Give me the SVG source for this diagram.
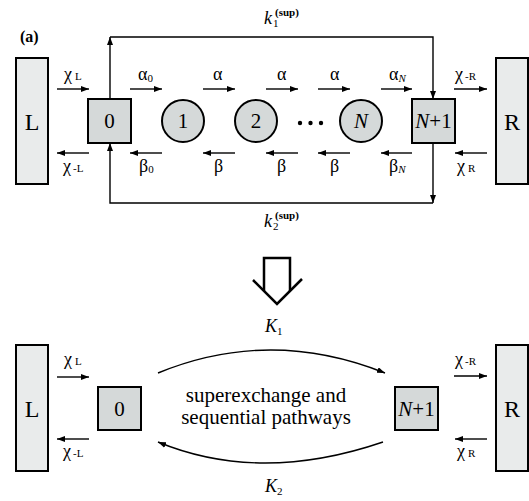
<svg xmlns="http://www.w3.org/2000/svg" width="529" height="501" viewBox="0 0 529 501">
<defs>
<marker id="ah" markerUnits="userSpaceOnUse" markerWidth="10" markerHeight="8" refX="8" refY="3" orient="auto">
<path d="M0,0 L8,3 L0,6 z" fill="#000"/>
</marker>
<style>
text{font-family:"Liberation Serif","Times New Roman",serif;fill:#000}
.lbl{font-size:18px}
.sub{font-size:11px}
.node{font-size:21px}
.big{font-size:24px}
.ital{font-style:italic}
.hdr{font-size:16px;font-weight:bold}
.res{fill:#e9ebeb;stroke:#000;stroke-width:2}
.box{fill:#d5d9d9;stroke:#000;stroke-width:2}
.arr{fill:none;stroke:#000;stroke-width:1.4;marker-end:url(#ah)}
.ln{fill:none;stroke:#000;stroke-width:1.4}
</style>
</defs>
<rect width="529" height="501" fill="#fff"/>

<!-- Panel (a) -->
<text class="hdr" x="20" y="42">(a)</text>
<g id="a-L"><rect class="res" x="16" y="58" width="32" height="126"/><text class="big" x="32" y="130" text-anchor="middle">L</text></g>
<g id="a-R"><rect class="res" x="496" y="58" width="32" height="126"/><text class="big" x="512" y="130" text-anchor="middle">R</text></g>
<g id="a-0"><rect class="box" x="88" y="99" width="43" height="44"/><text class="node" x="109.5" y="128" text-anchor="middle">0</text></g>
<g id="a-1"><circle class="box" cx="183" cy="121" r="21"/><text class="node" x="183" y="128" text-anchor="middle">1</text></g>
<g id="a-2"><circle class="box" cx="256" cy="121" r="21"/><text class="node" x="256" y="128" text-anchor="middle">2</text></g>
<g id="a-dots"><circle cx="300" cy="123" r="2.2"/><circle cx="310.5" cy="123" r="2.2"/><circle cx="321" cy="123" r="2.2"/></g>
<g id="a-N"><circle class="box" cx="361" cy="121" r="21"/><text class="node ital" x="361" y="128" text-anchor="middle">N</text></g>
<g id="a-N1"><rect class="box" x="412" y="99" width="43" height="44"/><text class="node" x="433.5" y="128" text-anchor="middle"><tspan font-style="italic">N</tspan>+1</text></g>

<g id="a-connectors">
<path class="arr" d="M57,89 H89"/>
<path class="arr" d="M89,153 H57"/>
<path class="arr" d="M130,89 H162"/>
<path class="arr" d="M203,89 H235"/>
<path class="arr" d="M266,89 H298"/>
<path class="arr" d="M318,89 H350"/>
<path class="arr" d="M381,89 H412"/>
<path class="arr" d="M454,89 H487"/>
<path class="arr" d="M162,153 H130"/>
<path class="arr" d="M235,153 H203"/>
<path class="arr" d="M298,153 H266"/>
<path class="arr" d="M350,153 H318"/>
<path class="arr" d="M412,153 H381"/>
<path class="arr" d="M487,153 H455"/>
<path class="arr" d="M110,99 V37"/>
<path class="arr" d="M110,37 H433 V99"/>
<path class="arr" d="M433,143 V203"/>
<path class="arr" d="M433,203 H110 V143"/>
</g>

<g id="a-labels">
<text class="lbl" x="64" y="80">χ<tspan class="sub" dx="3">L</tspan></text>
<text class="lbl" x="63" y="172">χ<tspan class="sub" dx="2">-L</tspan></text>
<text class="lbl" x="138" y="80">α<tspan class="sub" dy="2">0</tspan></text>
<text class="lbl" x="213" y="80">α</text>
<text class="lbl" x="277" y="80">α</text>
<text class="lbl" x="330" y="80">α</text>
<text class="lbl" x="389" y="80">α<tspan class="sub ital" dy="2">N</tspan></text>
<text class="lbl" x="455" y="80">χ<tspan class="sub" dx="2">-R</tspan></text>
<text class="lbl" x="139" y="172">β<tspan class="sub" dy="1">0</tspan></text>
<text class="lbl" x="214" y="172">β</text>
<text class="lbl" x="277" y="172">β</text>
<text class="lbl" x="330" y="172">β</text>
<text class="lbl" x="389" y="172">β<tspan class="sub ital" dy="1">N</tspan></text>
<text class="lbl" x="457" y="172">χ<tspan class="sub" dx="3">R</tspan></text>
<text class="lbl ital" x="264" y="24">k</text><text class="sub" x="273" y="27">1</text><text class="sub" font-weight="bold" x="275" y="16">(sup)</text>
<text class="lbl ital" x="264" y="227">k</text><text class="sub" x="273" y="230">2</text><text class="sub" font-weight="bold" x="275" y="219">(sup)</text>
</g>

<!-- Big hollow arrow -->
<g id="down-arrow" fill="none" stroke="#000" stroke-width="2.5">
<path d="M264,291 V258 H290 V291"/>
<path d="M253,280 L277,304 L302,279"/>
</g>

<!-- Panel (b) -->
<text class="hdr" x="20" y="373">(b)</text>
<g id="b-L"><rect class="res" x="16" y="345" width="32" height="126"/><text class="big" x="32" y="417" text-anchor="middle">L</text></g>
<g id="b-R"><rect class="res" x="496" y="345" width="32" height="126"/><text class="big" x="512" y="417" text-anchor="middle">R</text></g>
<g id="b-0"><rect class="box" x="98" y="387" width="43" height="43"/><text class="node" x="119.5" y="416" text-anchor="middle">0</text></g>
<g id="b-N1"><rect class="box" x="395" y="387" width="43" height="43"/><text class="node" x="416.5" y="416" text-anchor="middle"><tspan font-style="italic">N</tspan>+1</text></g>
<g id="b-text"><text font-size="21" x="266" y="402" text-anchor="middle">superexchange and</text><text font-size="21" x="266" y="424" text-anchor="middle">sequential pathways</text></g>

<g id="b-connectors">
<path class="arr" d="M57,377 H89"/>
<path class="arr" d="M89,439 H57"/>
<path class="arr" d="M454,376 H487"/>
<path class="arr" d="M487,439 H455"/>
<path class="arr" d="M158,373 Q270,327 385,373"/>
<path class="arr" d="M383,442 Q260,484 158,442"/>
</g>

<g id="b-labels">
<text class="lbl" x="64" y="365">χ<tspan class="sub" dx="3">L</tspan></text>
<text class="lbl" x="63" y="457">χ<tspan class="sub" dx="2">-L</tspan></text>
<text class="lbl" x="455" y="365">χ<tspan class="sub" dx="2">-R</tspan></text>
<text class="lbl" x="457" y="457">χ<tspan class="sub" dx="3">R</tspan></text>
<text class="lbl ital" x="265" y="332">K<tspan class="sub" font-style="normal" dy="3">1</tspan></text>
<text class="lbl ital" x="265" y="492">K<tspan class="sub" font-style="normal" dy="3">2</tspan></text>
</g>
</svg>
